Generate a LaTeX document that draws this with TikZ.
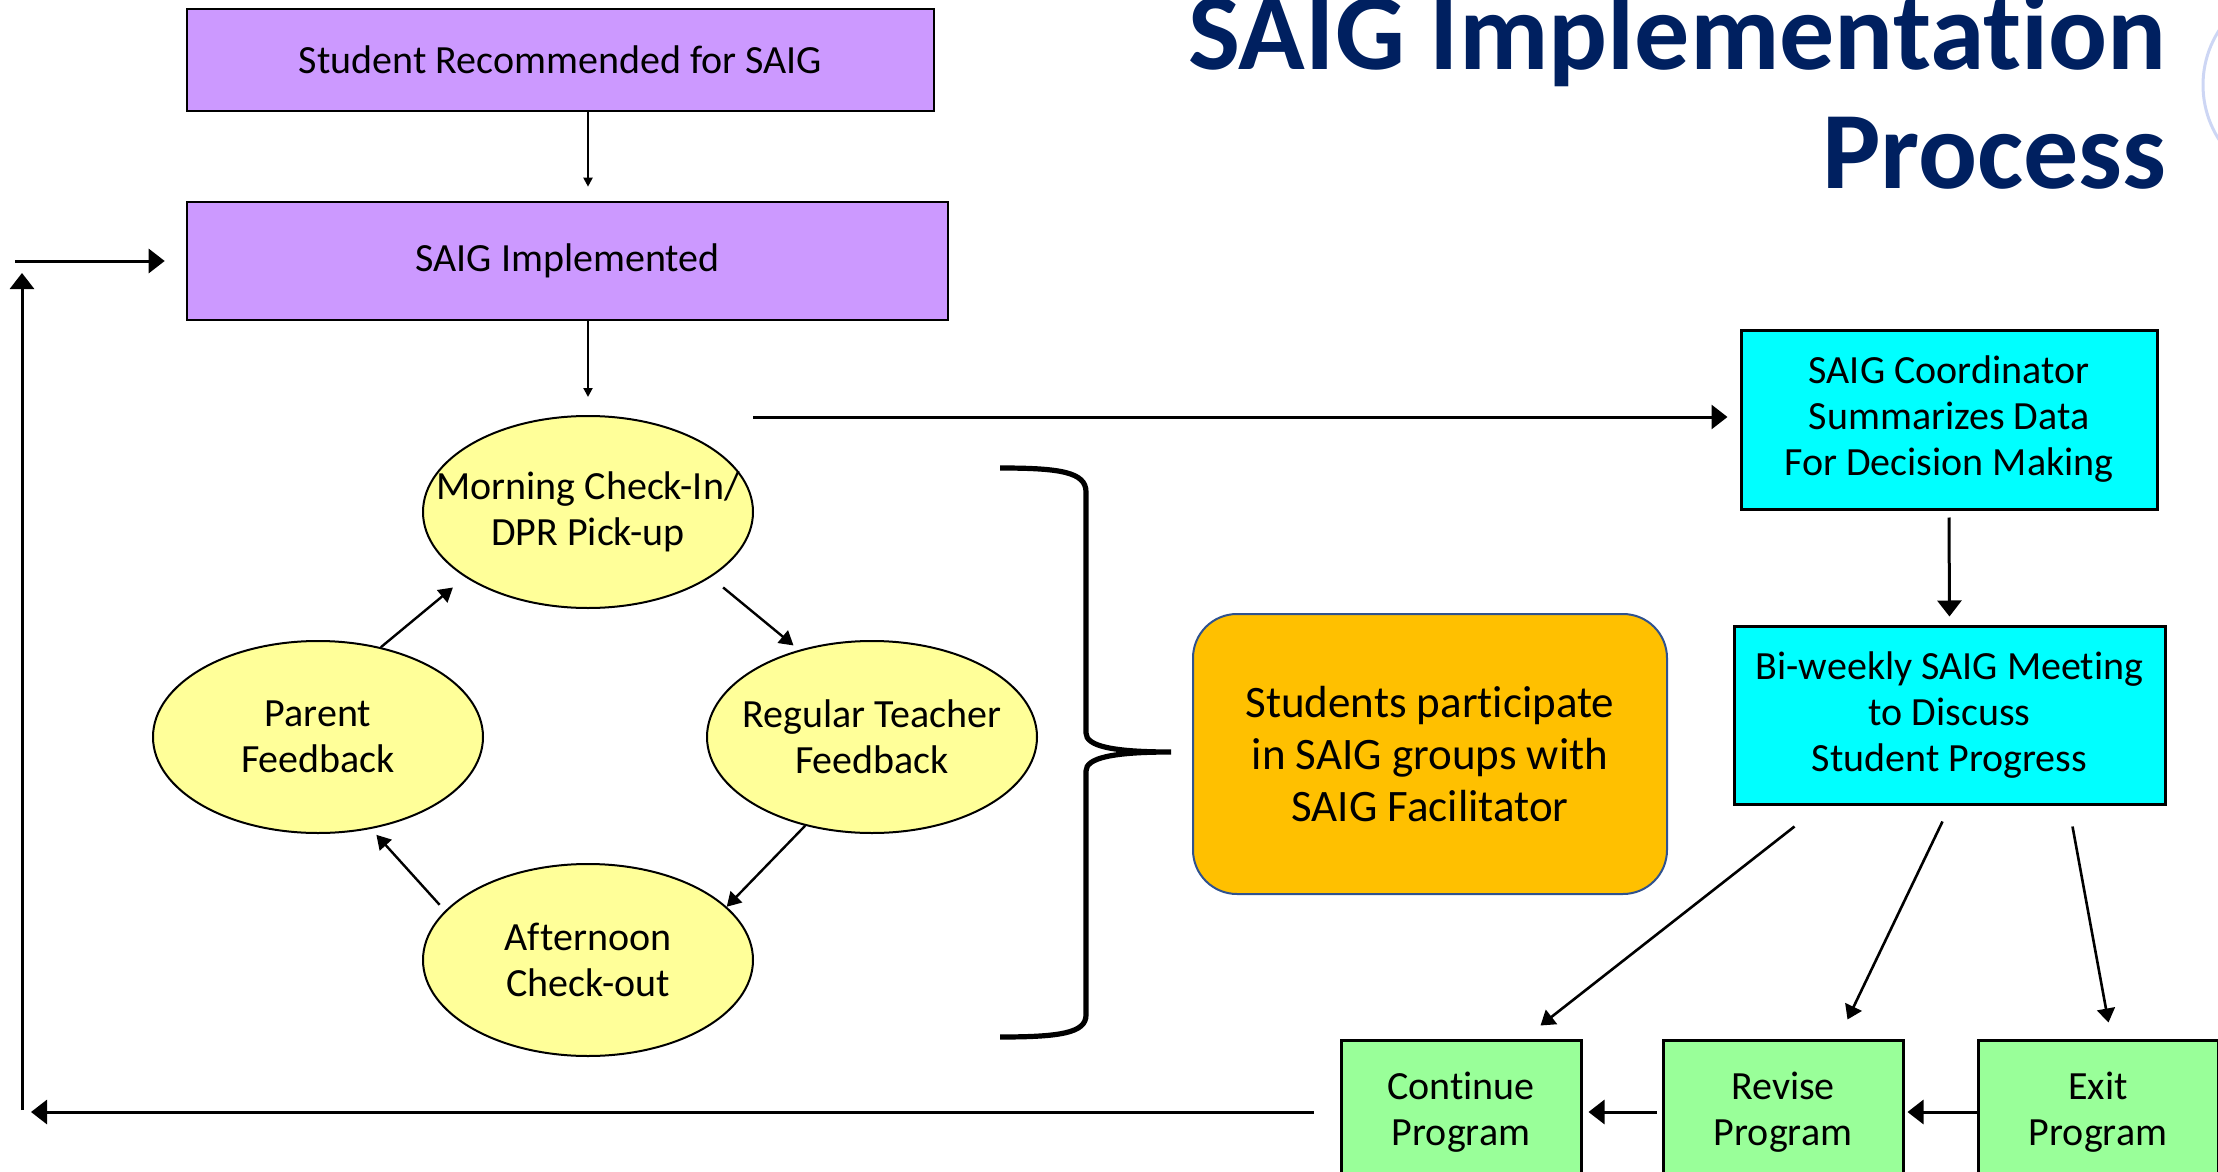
\documentclass[tikz,border=0pt]{standalone}
\usepackage{fontspec}
\setmainfont{Carlito}[Ligatures=NoCommon]
\usetikzlibrary{shapes.geometric,arrows.meta}
\definecolor{purp}{HTML}{CC99FF}
\definecolor{yel}{HTML}{FFFF99}
\definecolor{orng}{HTML}{FFC000}
\definecolor{obord}{HTML}{2F528F}
\definecolor{cyn}{HTML}{00FFFF}
\definecolor{grn}{HTML}{99FF99}
\definecolor{navy}{HTML}{002060}
\definecolor{deco}{HTML}{CDD6F4}
\begin{document}
\begin{tikzpicture}[x=0.5pt,y=-0.5pt,
  txt/.style={font=\fontsize{20}{23}\selectfont, align=center, inner sep=0pt},
  pbox/.style={txt, draw=black, line width=1.3pt, fill=purp},
  ell/.style={ellipse, draw=black, line width=1pt, fill=yel, inner sep=0pt, minimum width=165pt, minimum height=96pt},
  cbox/.style={txt, draw=black, line width=1.5pt, fill=cyn},
  gbox/.style={txt, draw=black, line width=1.5pt, fill=grn, minimum width=120pt, minimum height=72pt},
  obox/.style={align=center, inner sep=0pt, font=\fontsize{22.5}{26}\selectfont, draw=obord, line width=1pt, fill=orng, rounded corners=22pt},
  arr/.style={line width=1.5pt, -{Triangle[length=8pt,width=12pt]}},
  thinarr/.style={line width=1pt, -{Triangle[length=4.5pt,width=4.5pt]}},
  earr/.style={line width=1.2pt, -{Triangle[length=7pt,width=8pt]}},
  marr/.style={line width=1.3pt, -{Triangle[length=7pt,width=9pt]}},
  ttl/.style={anchor=base east, inner sep=0pt, text=navy, font=\fontsize{55}{60}\selectfont\bfseries}
]
\useasboundingbox (0,0) rectangle (2218,1172);

% decorative circle at right edge
\draw[deco, line width=1.5pt] (2304,85) circle[radius=101];

% title
\node[ttl] (t1) at (2167,70) {SAIG Implementation};
\node[ttl] (t2) at (2167,189) {Process};

% left column
\node[pbox, minimum width=373.5pt, minimum height=51pt] (rec) at (560.5,60) {Student Recommended for SAIG};
\node[pbox, minimum width=380.5pt, minimum height=59pt] (impl) at (567.5,261) {SAIG Implemented};

\node[ell, label={[txt]center:{Morning Check-In/\\DPR Pick-up}}] (morn) at (588,512) {};
\node[ell, label={[txt]center:{Parent\\Feedback}}] (par) at (318,737) {};
\node[ell, label={[txt]center:{Regular Teacher\\Feedback}}] (reg) at (872,737) {};
\node[ell, label={[txt]center:{Afternoon\\Check-out}}] (aft) at (588,960) {};

\draw[thinarr, shorten >=7pt] (rec.south -| morn.north) -- (impl.north -| morn.north);
\draw[thinarr, shorten >=9pt] (impl.south -| morn.north) -- (morn.north);

\draw[earr, shorten >=8pt] (par.55) -- (morn.208);
\draw[earr, shorten <=8pt, shorten >=3.5pt] (morn.-28) -- (reg.130);
\draw[earr] (reg.233) -- (aft.21);
\draw[earr, shorten <=4pt, shorten >=4pt] (aft.161) -- (par.-60);

% brace
\draw[line width=2.6pt]
  (1000,468) .. controls (1060,468) and (1086,472) .. (1086,492) -- (1086,733)
  .. controls (1086,746) and (1112,752) .. (1171,752)
  .. controls (1112,752) and (1086,758) .. (1086,771) -- (1086,1015)
  .. controls (1086,1033) and (1060,1037) .. (1000,1037);

% orange box
\node[obox, minimum width=237pt, minimum height=140pt] (stu) at (1430,754)
  {Students participate\\in SAIG groups with\\SAIG Facilitator};

% right column
\node[cbox, minimum width=208pt, minimum height=89.5pt] (coord) at (1949,419.5)
  {SAIG Coordinator\\Summarizes Data\\For Decision Making};
\node[cbox, minimum width=215.5pt, minimum height=89pt] (meet) at (1949.5,715)
  {Bi-weekly SAIG Meeting\\to Discuss\\Student Progress};

\node[gbox] (cont) at (1461,1112) {Continue\\Program};
\node[gbox] (rev) at (1783,1112) {Revise\\Program};
\node[gbox] (exit) at (2098,1112) {Exit\\Program};

\coordinate (mstart) at (753,417);
\draw[arr, shorten >=6pt] (mstart) -- (mstart -| coord.west);
\draw[arr, shorten <=3.5pt, shorten >=4pt] (coord.south) -- (meet.north);

\draw[marr] ([shift={(62,21)}]meet.south west) -- ([shift={(-42,-13)}]cont.north east);
\draw[marr] ([shift={(210,16)}]meet.south west) -- ([shift={(-57,-19)}]rev.north east);
\draw[marr] ([shift={(340,21)}]meet.south west) -- ([shift={(132,-16)}]exit.north west);

\draw[arr, shorten >=1.5pt] (exit.west) -- (rev.east);
\draw[arr, shorten <=2.5pt, shorten >=3pt] (rev.west) -- (cont.west -| cont.east);

% feedback loop
\coordinate (lbl) at (22,1115);
\coordinate (ltop) at (22,273);
\coordinate (lh) at (15,261);
\draw[arr, shorten <=13pt, shorten >=4.5pt] (cont.west) -- (cont.west -| lbl);
\draw[arr] ([yshift=2.5]lbl) -- (ltop);
\draw[arr, shorten >=10.5pt] (lh) -- (lh -| impl.west);
\end{tikzpicture}
\end{document}
